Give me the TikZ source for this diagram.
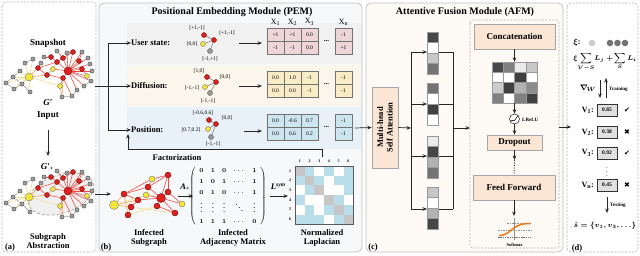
\documentclass[tikz,border=0pt]{standalone}
\usepackage{fontspec}
\setmainfont{Liberation Serif}
\newfontfamily\symfont{DejaVu Sans}
\usepackage{amsmath}
\usetikzlibrary{arrows.meta}
\pgfdeclarelayer{bg}
\pgfdeclarelayer{edges}
\pgfsetlayers{bg,edges,main}
\definecolor{rnode}{HTML}{E0201E}
\definecolor{ynode}{HTML}{F4E53A}
\definecolor{gnode}{HTML}{9C9C9C}
\definecolor{redge}{HTML}{EE4A40}
\definecolor{oedge}{HTML}{F39A50}
\definecolor{yedge}{HTML}{F2DC8A}
\definecolor{pembg}{HTML}{F6F8FA}
\definecolor{bandA}{HTML}{F1F1F1}
\definecolor{bandB}{HTML}{FBF6EC}
\definecolor{bandC}{HTML}{E8F1F8}
\definecolor{cellA}{HTML}{EED6D8}
\definecolor{cellB}{HTML}{F7ECC6}
\definecolor{cellC}{HTML}{CDE5EF}
\definecolor{afmbg}{HTML}{FDFAF6}
\definecolor{peach}{HTML}{FBE6D6}
\definecolor{lapb}{HTML}{B9DDE9}
\definecolor{lapg}{HTML}{C6C6C6}
\definecolor{orangec}{HTML}{F07818}
\newsavebox\adjbox
\newsavebox\xibox
\newsavebox\lossbox
\newsavebox\nabbox
\newsavebox\shatbox
\newsavebox\vdbox
\newcommand\snapgraph[1]{%
\foreach \n/\x/\y/\t in {g1/6/83/gn, g2/13/77/gn, g3/14/89/gn, g4/20/71/gn, g5/22/84/gn, g7/25/63/gn, g8/33/59/gn, g9/30/92/gn, Y1/29/77/ybig, R1/38/68/rn, R2/47/75/rn, Y2/53/69/yn, R3/57/62/rn, R4/51/57/rn, R5/63/58/rn, Y3/60/86/yn, R6/63/78/rn, RB/68/71/rbig, R7/73/52/rn, R8/79/61/rn, R9/82/69/rn, Y4/87/76/yn, g10/82/52/gn, g11/88/58/gn, g12/90/64/gn, g13/92/71/gn, g14/91/81/gn, g15/84/86/gn, g16/77/90/gn, g17/72/96/gn, g18/62/97/gn, g19/67/53/gn, g20/57/51/gn, g21/44/57/gn, g22/41/63/gn}
  {\node[\t] (#1\n) at (\x,\y) {};}
\begin{pgfonlayer}{edges}
\foreach \a/\b in {RB/R5, RB/R7, RB/R8, RB/R9, RB/Y4, RB/g10, RB/g11, RB/g12, RB/g13, RB/g14, RB/g15, RB/g16, RB/R6, RB/R3, RB/g19, R7/g19, R5/g20, R3/R4, R4/g21, R1/R3, R1/R2, R2/R6, R6/Y3, R6/g17, R8/g10, R9/Y4, R1/g22, RB/Y2, R3/R5, R5/R7}
  {\draw[redge, line width=0.55pt] (#1\a) -- (#1\b);}
\foreach \a/\b in {Y1/R1, Y1/R2, R2/Y2, Y2/R3, Y3/g18, R6/g18}
  {\draw[oedge, line width=0.55pt] (#1\a) -- (#1\b);}
\foreach \a/\b in {Y1/g4, Y1/g7, Y1/g8, Y1/g5, Y1/g9, Y1/g3, Y1/Y3, Y1/g2, Y1/g1}
  {\draw[yedge, line width=0.55pt] (#1\a) -- (#1\b);}
\foreach \a/\b in {g1/g2, g1/g3, g2/g4, g3/g5, g2/g5, g5/g9, g16/g17, g17/g18, g7/g8, g14/g15}
  {\draw[black!45, line width=0.4pt] (#1\a) -- (#1\b);}
\end{pgfonlayer}}
\newcommand\pemtable[5]{%
  \foreach \v [count=\i] in {#4} {\pgfmathsetmacro\cx{\i<4 ? 258.5+17*\i : 343.5}
    \node[cellst, fill=#3] (#1a\i) at (\cx, #2+6.5) {\v};}
  \foreach \v [count=\i] in {#5} {\pgfmathsetmacro\cx{\i<4 ? 258.5+17*\i : 343.5}
    \node[cellst, fill=#3] (#1b\i) at (\cx, #2+19.5) {\v};}
  \node[font=\bfseries\fontsize{7}{7}\selectfont, inner sep=0] (#1dots) at (326.5, #2+13) {...};}
\begin{document}
\sbox\adjbox{\bfseries\fontsize{6.5}{11}\selectfont\boldmath$\setlength{\arraycolsep}{3.6pt}\left(\begin{array}{ccccc} 0&1&0&\cdots&1\\ 1&0&1&\cdots&1\\ 0&1&0&\cdots&1\\ \vdots&\vdots&\vdots&\ddots&\vdots\\ 1&1&1&\cdots&0\end{array}\right)$}%
\sbox\xibox{\bfseries\fontsize{8}{9}\selectfont\boldmath$\xi$:}%
\sbox\lossbox{\fontsize{7.3}{8}\selectfont\boldmath$\displaystyle\xi\!\sum_{V-S}\! L_j+\!\sum_{S} L_i$}%
\sbox\nabbox{\fontsize{8}{9}\selectfont\boldmath$\nabla_{\!W}$}%
\sbox\shatbox{\fontsize{7.5}{8}\selectfont\boldmath$\hat{s}=\{v_1,v_3,\ldots\}$}%
\sbox\vdbox{\fontsize{6.5}{7}\selectfont\boldmath$\vdots$}%
\begin{tikzpicture}[x=1pt,y=-1pt,
  arr/.style={-{Stealth[length=4.5pt,width=3.6pt]}, line width=0.7pt, black!85},
  lab/.style={font=\bfseries\fontsize{8.5}{9.5}\selectfont, align=center, inner sep=0},
  ttl/.style={font=\bfseries\fontsize{10}{11}\selectfont, inner sep=0},
  tiny/.style={font=\fontsize{5.5}{6}\selectfont, inner sep=0},
  gn/.style={circle, draw=black!75, fill=gnode, inner sep=0, minimum size=4.3pt, line width=0.3pt},
  rn/.style={gn, fill=rnode, draw=red!35!black, minimum size=5pt},
  yn/.style={gn, fill=ynode, draw=black!60, minimum size=5pt},
  rbig/.style={rn, minimum size=8pt},
  ybig/.style={yn, minimum size=8pt},
  cellst/.style={draw=black!55, line width=0.5pt, minimum width=17pt, minimum height=13pt, inner sep=0, font=\fontsize{5.5}{6}\selectfont},
  vcell/.style={draw=black!40, line width=0.3pt, minimum width=11pt, minimum height=10.5pt, inner sep=0},
  mcell/.style={draw=black!40, line width=0.3pt, minimum width=11.25pt, minimum height=10.25pt, inner sep=0},
  lcell/.style={minimum size=9.7pt, inner sep=0},
  pbox/.style={draw=black!35, fill=peach, line width=0.6pt, inner sep=0, font=\bfseries\fontsize{9}{10}\selectfont},
  vbox/.style={draw=black!80, fill=black!12, line width=0.6pt, minimum width=20pt, minimum height=12pt, inner sep=0, font=\bfseries\fontsize{5.5}{6}\selectfont},
  vlab/.style={font=\bfseries\fontsize{8}{9}\selectfont, inner sep=0},
  sedge/.style={black!55, line width=0.5pt}
]
\useasboundingbox (0,0) rectangle (640,255);
\begin{pgfonlayer}{bg}
\fill[white] (0,0) rectangle (640,255);
\draw[black!30, dash pattern=on 2pt off 1.5pt, rounded corners=4pt, line width=0.6pt] (2,2) rectangle (96,252);
\draw[black!25, fill=pembg, rounded corners=5pt, line width=0.7pt] (99,3) rectangle (362,252);
\fill[bandA] (127,23) rectangle (361,64);
\fill[bandB] (127,65) rectangle (361,106);
\fill[bandC] (127,107) rectangle (361,149);
\draw[black!25, fill=afmbg, rounded corners=5pt, line width=0.7pt] (366,3) rectangle (563,252);
\draw[black!30, dash pattern=on 2pt off 1.5pt, rounded corners=3pt, line width=0.6pt] (470,20) rectangle (559,248);
\draw[black!30, dash pattern=on 2pt off 1.5pt, rounded corners=4pt, line width=0.6pt] (567,3) rectangle (638,252);
\fill[black!6] [rotate around={19:(61,194)}] (61,194) ellipse [x radius=34, y radius=19];
\draw[black!40, dash pattern=on 3pt off 2pt, line width=0.6pt] [rotate around={19:(61,194)}] (61,194) ellipse [x radius=34, y radius=19];
\end{pgfonlayer}

% ---------- (a) ----------
\node[lab, font=\bfseries\fontsize{9}{10}\selectfont] (snap) at (48,43) {Snapshot};
\snapgraph{t}
\node[lab, font=\bfseries\itshape\fontsize{9}{10}\selectfont] (gp) at (48,103) {G′};
\node[lab, font=\bfseries\fontsize{9}{10}\selectfont] (inp) at (48,116) {Input};
\coordinate (aTop) at (48,130); \coordinate (aBot) at (48,156);
\draw[arr] (aTop) -- (aBot);
\node[lab, font=\bfseries\itshape\fontsize{9}{10}\selectfont] (gpp) at (47,167) {G′\raisebox{-1.5pt}{\fontsize{6}{6}\selectfont +}};
\begin{scope}[shift={(0,120)}]
\snapgraph{s}
\end{scope}
\node[lab] (subab) at (48,241) {Subgraph\\Abstraction};
\node[lab] (pa) at (10,247) {(a)};

% ---------- (b) ----------
\node[ttl] (pemt) at (232,12) {Positional Embedding Module (PEM)};
\coordinate (inD) at (95,86);
\coordinate (brT) at (108,43);
\coordinate (brB) at (108,130);
\node[lab, anchor=west] (us) at (131,43) {User state:};
\node[lab, anchor=west] (df) at (131,86) {Diffusion:};
\node[lab, anchor=west] (ps) at (131,130) {Position:};
\draw[line width=0.7pt, black!85] (brT) -- (brB);
\draw[arr] (brT) -- (us.west);
\draw[arr] (inD) -- (df.west);
\draw[arr] (brB) -- (ps.west);
% small graphs
\node[rn] (u1) at (204,35) {};
\node[rn] (u0) at (214,40) {};
\node[yn] (u2) at (203,44) {};
\node[gn, minimum size=5pt] (u3) at (210,51) {};
\draw[sedge] (u0)--(u1); \draw[sedge] (u0)--(u2); \draw[sedge] (u0)--(u3);
\node[tiny] (ul1) at (197,28) {[+1,-1]};
\node[tiny] (ul0) at (227,33) {[+1,-1]};
\node[tiny] (ul2) at (192,44) {[0,0]};
\node[tiny] (ul3) at (210,59) {[-1,+1]};
\node[rn] (d1) at (207,77) {};
\node[rn] (d0) at (216,82) {};
\node[yn] (d2) at (205,87) {};
\node[gn, minimum size=5pt] (d3) at (210,93) {};
\draw[sedge] (d0)--(d1); \draw[sedge] (d0)--(d2); \draw[sedge] (d0)--(d3);
\node[tiny] (dl1) at (199,71) {[1,0]};
\node[tiny] (dl0) at (225,77) {[0,0]};
\node[tiny] (dl2) at (192,88) {[-1,-1]};
\node[tiny] (dl3) at (208,101) {[-1,-1]};
\node[rn] (p1) at (209,120) {};
\node[rn] (p0) at (216,124) {};
\node[yn] (p2) at (208,129) {};
\node[gn, minimum size=5pt] (p3) at (211,137) {};
\draw[sedge] (p0)--(p1); \draw[sedge] (p0)--(p2); \draw[sedge] (p0)--(p3);
\node[tiny] (pl1) at (203,113) {[-0.6,0.6]};
\node[tiny] (pl0) at (227,118) {[0,0]};
\node[tiny] (pl2) at (191,130) {[0.7,0.2]};
\node[tiny] (pl3) at (213,144) {[-1,-1]};
% column headers
\foreach \h/\x in {1/275.5, 2/292.5, 3/309.5, n/343.5}
  \node[font=\fontsize{8}{9}\selectfont, inner sep=0] (hx\h) at (\x,22) {X\textsubscript{\h}};
\pemtable{ta}{28}{cellA}{+1,+1,0.0,-1}{-1,-1,0.0,+1}
\pemtable{tb}{71}{cellB}{0.0,1.0,-1,-1}{0.0,0.0,-1,-1}
\pemtable{tc}{114}{cellC}{0.0,-0.6,0.7,-1}{0.0,0.6,0.2,-1}
\coordinate (uaS) at (239,43); \coordinate (uaE) at (262,43);
\coordinate (daS) at (239,86); \coordinate (daE) at (262,86);
\coordinate (paS) at (244,131); \coordinate (paE) at (262,131);
\draw[arr] (uaS) -- (uaE);
\draw[arr] (daS) -- (daE);
\draw[arr] (paS) -- (paE);
% infected subgraph
\begin{scope}[rn/.append style={minimum size=6pt}, yn/.append style={minimum size=6pt}, rbig/.append style={minimum size=9pt}, ybig/.append style={minimum size=9pt}]
\foreach \n/\x/\y/\t in {Y1/114/205/ybig, R1/124/194/rn, R2/131/207/rn, R3/138/200/rn, Y2/146/195/yn, R4/148/187/rn, Y3/152/179/yn, R5/157/206/rn, RB/161/198/rbig, R6/168/175/rn, R7/168/192/rn, R8/175/213/rn, Y4/182/204/yn, R9/128/215/rn}
  {\node[\t] (i\n) at (\x,\y) {};}
\end{scope}
\begin{pgfonlayer}{edges}
\foreach \a/\b in {RB/R6, RB/R7, RB/R4, RB/R8, RB/Y4, R6/R7, R4/Y3, Y3/R6, R1/R3, R1/R4, R2/R3, R3/RB, R4/R6, R7/Y4, R5/RB, Y2/RB, R1/Y3, R8/R5}
  {\draw[redge, line width=0.6pt] (i\a) -- (i\b);}
\foreach \a/\b in {Y1/R1, Y1/R2, Y1/R3, R9/R2, R9/R1}
  {\draw[oedge, line width=0.6pt] (i\a) -- (i\b);}
\foreach \a/\b in {Y1/R8, Y1/Y2, Y2/R4, R9/R5}
  {\draw[yedge, line width=0.6pt] (i\a) -- (i\b);}
\end{pgfonlayer}
\coordinate (inS) at (95,194); \coordinate (inE) at (111,194);
\draw[arr] (inS) -- (inE);
\node[lab] (infs) at (149,238) {Infected\\Subgraph};
\coordinate (apS) at (178,196); \coordinate (apE) at (193,196);
\draw[arr] (apS) -- (apE);
\node[lab, font=\bfseries\itshape\fontsize{8.5}{9.5}\selectfont] (aplus) at (185,187) {A\raisebox{-1.5pt}{\fontsize{6}{6}\selectfont +}};
\node[inner sep=0] (adj) at (228,196) {\usebox\adjbox};
\node[lab] (adjl) at (233,238) {Infected\\Adjacency Matrix};
\coordinate (lsS) at (270,196); \coordinate (lsE) at (288,196);
\draw[arr] (lsS) -- (lsE);
\node[lab, font=\bfseries\itshape\fontsize{8.5}{9.5}\selectfont] (lsym) at (278,187) {L\raisebox{3pt}{\fontsize{5.5}{6}\selectfont sym}};
\foreach \row [count=\r] in {{lapg,lapb,white,lapb,white,lapb},{lapb,lapg,lapb,white,lapb,lapb},{white,lapb,lapg,white,white,lapb},{lapb,white,white,lapg,lapb,white},{white,lapb,white,lapb,lapg,lapb},{lapb,lapb,lapb,white,lapb,lapg}}
  {\foreach \c [count=\k] in \row {\node[lcell, fill=\c] (L\r-\k) at (295+9.7*\k-4.85, 166+9.7*\r-4.85) {};}}
\node[draw=black!65, line width=0.7pt, minimum width=58.2pt, minimum height=58.2pt, inner sep=0] (lap) at (324.1,195.1) {};
\foreach \k in {1,...,6} {
  \node[font=\bfseries\fontsize{4}{4}\selectfont, inner sep=0] (lc\k) at (295+9.7*\k-4.85, 161) {\k};
  \node[font=\bfseries\fontsize{4}{4}\selectfont, inner sep=0] (lr\k) at (290, 166+9.7*\k-4.85) {\k};}
\node[lab] (lapl) at (322,238) {Normalized\\Laplacian};
\coordinate (fA) at (322,157);
\coordinate (fB) at (128,134);
\draw[arr] (fA) -- (322,149) -- (128,149) -- (fB);
\node[lab] (fact) at (177,158) {Factorization};
\node[lab] (pb) at (106,247) {(b)};

% ---------- (c) ----------
\node[ttl] (afmt) at (465,12) {Attentive Fusion Module (AFM)};
\node[pbox, rotate=90, minimum width=81pt, minimum height=26pt, align=center, font=\bfseries\fontsize{8.5}{9.5}\selectfont] (mhsa) at (385,127.5) {Multi-head\\Self Attention};
\coordinate (pemout) at (355,128);
\draw[arr] (pemout) -- (mhsa.north);
\coordinate (lvT) at (411,52); \coordinate (lvB) at (411,209);
\coordinate (rvT) at (453,52); \coordinate (rvB) at (453,209);
\coordinate (lvM) at (411,128); \coordinate (rvM) at (453,128);
\draw[line width=0.7pt, black!85] (lvT) -- (lvB);
\draw[line width=0.7pt, black!85] (rvT) -- (rvB);
\draw[arr] (mhsa.south) -- (lvM);
\foreach \c [count=\i] in {black!72,white,black!22,black!55} \node[vcell, fill=\c] (va\i) at (432.5, 26.75+10.5*\i) {};
\foreach \c [count=\i] in {black!55,white,black!75,white} \node[vcell, fill=\c] (vb\i) at (432.5, 77.75+10.5*\i) {};
\foreach \c [count=\i] in {black!8,black!72,black!30,black!55} \node[vcell, fill=\c] (vc\i) at (432.5, 130.75+10.5*\i) {};
\foreach \c [count=\i] in {black!22,white,black!30,black!72} \node[vcell, fill=\c] (vd\i) at (432.5, 181.75+10.5*\i) {};
\begin{pgfonlayer}{edges}
\foreach \y in {52,104,156,209} {
  \draw[line width=0.7pt, black!85] (427,\y) -- (453,\y);}
\end{pgfonlayer}
\foreach \y in {52,104,156,209} {
  \draw[arr] (411,\y) -- (427,\y);}
\coordinate (ibox) at (470,128);
\draw[arr] (rvM) -- (ibox);
\node[pbox, minimum width=81pt, minimum height=25pt] (concat) at (514.5,36.5) {Concatenation};
\foreach \row [count=\r] in {{black!72,black!50,black!8,black!22},{white,white,black!75,white},{black!20,black!75,black!30,black!45},{black!50,white,black!50,black!75}}
  {\foreach \c [count=\k] in \row {\node[mcell, fill=\c] (M\r-\k) at (492+11.25*\k-5.625, 62+10.25*\r-5.125) {};}}
\node[minimum width=45pt, minimum height=41pt, inner sep=0] (mat) at (514.5,82.5) {};
\draw[arr] (concat.south) -- (mat.north);
\node[circle, draw=black!80, fill=white, line width=0.6pt, minimum size=10pt, inner sep=0] (lrelu) at (514.5,119) {};
\draw[black!80, line width=0.6pt] (510.5,120.5) -- (514.5,120.5) -- (518,115.5);
\node[font=\bfseries\fontsize{5}{5}\selectfont, inner sep=0, anchor=west] (lrl) at (522,119.5) {LReLU};
\draw[arr] (mat.south) -- (lrelu.north);
\node[pbox, minimum width=55pt, minimum height=15pt] (drop) at (514.5,142.5) {Dropout};
\draw[arr] (lrelu.south) -- (drop.north);
\node[pbox, minimum width=82pt, minimum height=25pt] (ff) at (514,187.5) {Feed Forward};
\coordinate (dd) at (514.5,160);
\draw[arr] (drop.south) -- (dd);
\draw[line width=0.9pt, black!85, dash pattern=on 1pt off 1.5pt] (dd) -- (ff.north);
\coordinate (smx) at (514,216);
\draw[arr] (ff.south) -- (smx);
\draw[black!45, line width=0.5pt] (514,218) -- (514,240);
\draw[black!45, line width=0.6pt, dash pattern=on 1.5pt off 1pt] (507,223) -- (531,223);
\draw[black!45, line width=0.6pt, dash pattern=on 1.5pt off 1pt] (498,230) -- (531,230);
\draw[black!55, line width=1pt, dash pattern=on 1.5pt off 0.8pt] (498,237) -- (531,237);
\draw[orangec, line width=1.5pt] (499,235.5) .. controls (512,235.5) and (510,223.5) .. (530,223.5);
\node[font=\bfseries\fontsize{4.5}{5}\selectfont, inner sep=0] (smxl) at (514.5,245) {Softmax};
\node[lab] (pc) at (373,247) {(c)};

% ---------- (d) ----------
\coordinate (dS) at (559,127); \coordinate (dE) at (571,127);
\draw[arr] (dS) -- (dE);
\node[inner sep=0] (xil) at (577,42) {\usebox\xibox};
\node[circle, fill=black!20, inner sep=0, minimum size=6.6pt] (xc0) at (592,43) {};
\foreach \x [count=\i] in {610,617.5,625} \node[circle, fill=black!55, inner sep=0, minimum size=6.6pt] (xc\i) at (\x,43) {};
\node[inner sep=0] (loss) at (605,62) {\usebox\lossbox};
\node[inner sep=0] (nab) at (588,88) {\usebox\nabbox};
\coordinate (tA) at (600,80); \coordinate (tB) at (600,98);
\coordinate (tC) at (606,98); \coordinate (tD) at (606,78);
\draw[arr] (tA) -- (tB);
\draw[arr] (tC) -- (tD);
\node[font=\bfseries\fontsize{5}{5}\selectfont, inner sep=0, anchor=west] (trn) at (609,89) {Training};
\foreach \nm/\s/\y/\v/\m in {v1/1/110/0.85/✔, v2/2/132/0.38/✖, v3/3/153/0.92/✔, vn/n/185/0.45/✖} {
  \node[vlab, anchor=east] (\nm l) at (594,\y) {V\textsubscript{\s}:};
  \node[vbox] (\nm b) at (607,\y) {\v};
  \node[inner sep=0, font=\symfont\fontsize{7}{7}\selectfont] (\nm m) at (627,\y) {\m};}
\node[inner sep=0] (vdots) at (607,169) {\usebox\vdbox};
\coordinate (teA) at (607,197); \coordinate (teB) at (607,213);
\draw[arr] (teA) -- (teB);
\node[font=\bfseries\fontsize{5}{5}\selectfont, inner sep=0, anchor=west] (tst) at (610,205) {Testing};
\node[inner sep=0] (shat) at (605,226) {\usebox\shatbox};
\node[lab] (pd) at (577,248) {(d)};
\end{tikzpicture}
\end{document}
